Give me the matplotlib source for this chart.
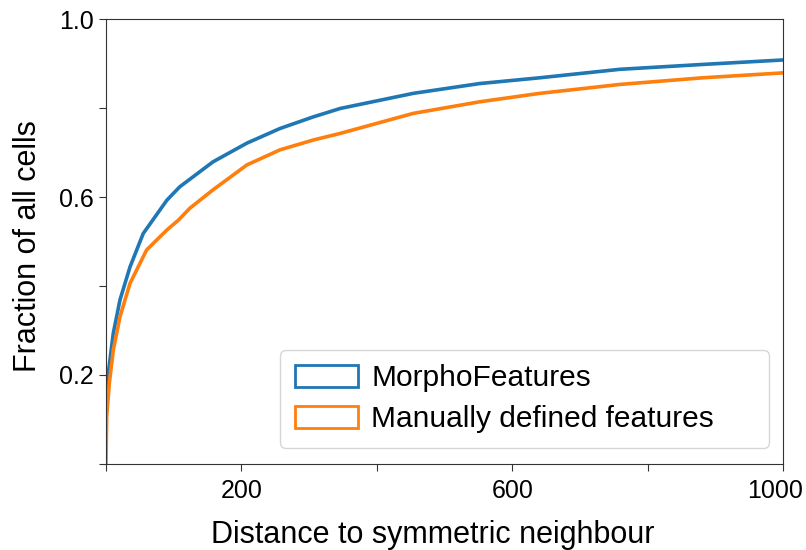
import matplotlib.pyplot as plt
import matplotlib.transforms as mtransforms
from matplotlib.patches import Patch

plt.rcParams['font.family'] = ['Liberation Sans', 'DejaVu Sans']

# cumulative fraction of cells vs distance to the symmetric partner cell
dist_morpho = [0, 3.4, 10.8, 20.7, 35.5, 55, 90, 109, 158, 208, 257, 306,
               346, 454, 552, 641, 759, 882, 1000]
frac_morpho = [0.144, 0.204, 0.294, 0.369, 0.443, 0.518, 0.593, 0.623, 0.679,
               0.721, 0.754, 0.780, 0.799, 0.833, 0.855, 0.868, 0.887, 0.898,
               0.908]

dist_manual = [0, 1, 4.9, 10.8, 20.7, 35.5, 60, 90, 107, 124, 158, 208, 257,
               306, 346, 454, 552, 641, 759, 882, 1000]
frac_manual = [0.0, 0.106, 0.181, 0.256, 0.331, 0.406, 0.481, 0.526, 0.548,
               0.575, 0.616, 0.672, 0.706, 0.728, 0.743, 0.788, 0.814, 0.833,
               0.853, 0.868, 0.879]

labels = ['MorphoFeatures', 'Manually defined features']
colors = ['#1f77b4', '#ff7f0e']

x_ticks = [0, 200, 400, 600, 800, 1000]
x_ticklabels = ['', '200', '', '600', '', '1000']
y_ticks = [0, 0.2, 0.4, 0.6, 0.8, 1.0]
y_ticklabels = ['', '0.2', '', '0.6', '', '1.0']

fig = plt.figure(figsize=(8.06, 5.5), dpi=100)
ax = fig.add_axes([0.1315, 0.1564, 0.84, 0.809])

ax.plot(dist_morpho, frac_morpho, color=colors[0], lw=2.6)
ax.plot(dist_manual, frac_manual, color=colors[1], lw=2.6)

ax.set_xlim(0, 1000)
ax.set_ylim(0, 1.0)
ax.set_xticks(x_ticks)
ax.set_xticklabels(x_ticklabels)
ax.set_yticks(y_ticks)
ax.set_yticklabels(y_ticklabels)
ax.tick_params(labelsize=18, length=5, color='#333333')
ax.tick_params(axis='x', pad=6)
for sp in ax.spines.values():
    sp.set_color('#333333')

# nudge the last x label so it stays inside the figure
last = ax.get_xticklabels()[-1]
last.set_transform(last.get_transform() +
                   mtransforms.ScaledTranslation(-0.08, 0, fig.dpi_scale_trans))

ax.set_xlabel('Distance to symmetric neighbour', fontsize=22, labelpad=12)
ax.xaxis.label.set_x(0.482)
ax.set_ylabel('Fraction of all cells', fontsize=22, labelpad=12)
ax.yaxis.label.set_y(0.49)

# legend box stretched to the same span as the original figure
handles = [Patch(facecolor='none', edgecolor=c, lw=2) for c in colors]
ax.legend(handles, labels, loc='lower left', fontsize=21.5,
          bbox_to_anchor=(0.257, 0.036, 0.722, 0.2), mode='expand',
          borderaxespad=0, handlelength=2.1, handleheight=0.75,
          borderpad=0.5, labelspacing=0.42, handletextpad=0.45,
          frameon=True)

fig.savefig('out.png', dpi=100)
